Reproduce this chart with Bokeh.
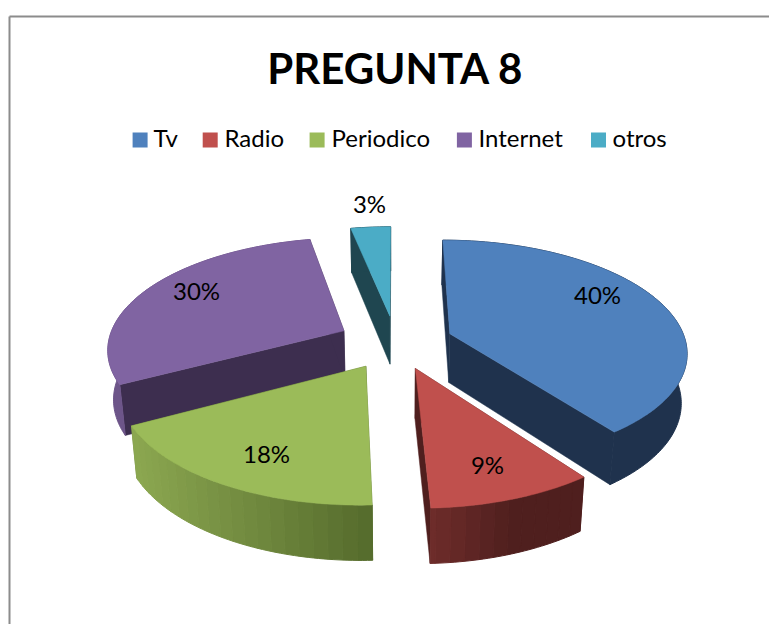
import math
from bokeh.plotting import figure
from bokeh.models import Range1d
from bokeh.embed import file_html
from bokeh.resources import INLINE

title = "PREGUNTA 8"
categories = ["Tv", "Radio", "Periodico", "Internet", "otros"]
values = [39.9, 9.45, 17.85, 29.6, 3.2]
labels = ["40%", "9%", "18%", "30%", "3%"]
colors = ["#4F81BD", "#C0504D", "#9BBB59", "#8064A2", "#4BACC6"]
dark = ["#1F324D", "#4F1F1E", "#556B2C", "#3D2E4F", "#1F4650"]
label_xy = [(597, 294), (487, 464), (266, 453), (196, 290), (369, 203)]
legend_box_x = [139.6, 209.7, 316.6, 463.9, 598]
legend_text_x = [153, 224, 331, 478, 612]
draw_order = ["otros", "Internet", "Tv", "Periodico", "Radio"]
FONT = {"value": "Lato"}

W, H = 769, 624
CX, CY = 395, 341.6        # projected pie centre, page px
RX, RY = 236, 110          # radii on the top face
PERSP = 0.15               # near edge larger than far edge
DEPTH = 49
SHRINK = 0.02              # the underside is slightly further from the eye
EXPLODE = 0.245


def project(u, v, z=0.0):
    """u to the right, v towards the viewer, z downwards."""
    s = 1 / (1 - PERSP * v)
    k = 1 - SHRINK * z / DEPTH
    return CX + RX * u * s * k, CY + RY * v * s + z * s ** 0.6


def blend(a, b, t):
    t = min(1, max(0, t))
    ca = [int(a[i:i + 2], 16) for i in (1, 3, 5)]
    cb = [int(b[i:i + 2], 16) for i in (1, 3, 5)]
    return "#%02x%02x%02x" % tuple(round(x + (y - x) * t) for x, y in zip(ca, cb))


def wall_color(name, idx, xm):
    if name == "Radio":
        return blend("#6E2C2A", dark[idx], (xm - 431) / 80)
    if name == "Periodico":
        return blend("#8CA851", dark[idx], (xm - 130) / 240)
    if name == "Internet":
        return "#6D5589"
    return dark[idx]


p = figure(width=W, height=H, output_backend="svg", toolbar_location=None,
           x_range=Range1d(0, W), y_range=Range1d(H, 0),
           min_border=0, outline_line_color=None, background_fill_color="white")
p.axis.visible = False
p.grid.visible = False

# chart frame: only its top and left edges fall inside the picture
p.line([9, 9], [H, 16], line_color="#8c8c8c", line_width=2)
p.line([9, W], [16, 16], line_color="#8c8c8c", line_width=2)

total = sum(values)
spans = {}
a = 0.0
for name, val in zip(categories, values):
    spans[name] = (a, a + val / total)
    a += val / total

for name in draw_order:
    i = categories.index(name)
    a0, a1 = spans[name]
    mid = (a0 + a1) / 2 * 2 * math.pi
    ox, oy = EXPLODE * math.sin(mid), -EXPLODE * math.cos(mid)
    n = max(8, int((a1 - a0) * 360))
    ang = [(a0 + (a1 - a0) * k / n) * 2 * math.pi for k in range(n + 1)]
    rim = [(ox + math.sin(t), oy - math.cos(t)) for t in ang]

    # cut faces
    for end in (rim[0], rim[-1]):
        q = [project(ox, oy), project(*end), project(*end, DEPTH), project(ox, oy, DEPTH)]
        p.patch([c[0] for c in q], [c[1] for c in q], fill_color=dark[i],
                line_color=dark[i], line_width=0.5)

    # outer wall: one polygon when flat, bands of a few degrees when shaded
    step = 3 if name in ("Radio", "Periodico") else n
    for k in range(0, n, step):
        seg = rim[k:k + step + 1]
        upper = [project(u, v) for u, v in seg]
        lower = [project(u, v, DEPTH) for u, v in reversed(seg)]
        xm = sum(c[0] for c in upper) / len(upper)
        col = wall_color(name, i, xm)
        q = upper + lower
        p.patch([c[0] for c in q], [c[1] for c in q], fill_color=col, line_color=col, line_width=1)

    # top face
    top = [project(ox, oy)] + [project(u, v) for u, v in rim]
    p.patch([c[0] for c in top], [c[1] for c in top], fill_color=colors[i],
            line_color=colors[i], line_width=0.5)

# percentage labels
p.text([c[0] for c in label_xy], [c[1] for c in label_xy], text=labels,
       text_font=FONT, text_font_size="24px", text_color="#000000",
       text_align="center", text_baseline="middle")

# title
p.text([395], [67], text=[title], text_font=FONT, text_font_size="42px",
       text_font_style="bold", text_color="#000000", text_align="center", text_baseline="middle")

# legend
p.scatter(legend_box_x, [139.5] * 5, marker="square", size=15, fill_color=colors, line_color=None)
p.text(legend_text_x, [137] * 5, text=categories,
       text_font=FONT, text_font_size="24px", text_color="#000000",
       text_align="left", text_baseline="middle")

open("out.html", "w").write(file_html(p, INLINE))
